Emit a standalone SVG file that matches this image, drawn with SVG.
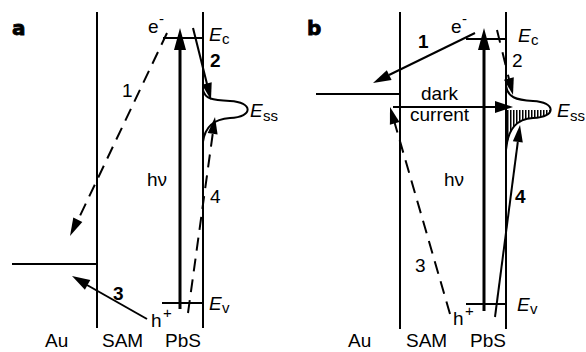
<svg xmlns="http://www.w3.org/2000/svg" width="586" height="352" viewBox="0 0 586 352">
<style>
text{font-family:"Liberation Sans",Arial,sans-serif;font-size:19px;fill:#000}
.b{font-weight:bold}
.p{font-family:"DejaVu Sans","Liberation Sans",sans-serif;font-weight:bold;font-size:20px;stroke:#000;stroke-width:0.8}
.it{font-style:italic}
.sub{font-size:15px}
.ln{stroke:#000;stroke-width:2;fill:none}
.th{stroke:#000;stroke-width:3;fill:none}
.da{stroke:#000;stroke-width:2;fill:none;stroke-dasharray:13 8}
.ah{fill:#000;stroke:none}
</style>
<defs>
<pattern id="hatch" width="3" height="40" patternUnits="userSpaceOnUse">
<rect x="0" y="0" width="1.5" height="40" fill="#000"/>
</pattern>
<clipPath id="bumpb">
<path d="M506,86 C508,97 515,100 533,101 C556,102 557,117 533,118 C517,119 508,128 506,150 Z"/>
</clipPath>
</defs>

<g id="panel-a">
<text class="p" x="12" y="35">a</text>
<g id="a-frame">
<line class="ln" x1="97" y1="12" x2="97" y2="328"/>
<line class="ln" x1="203" y1="12" x2="203" y2="328"/>
<line class="ln" x1="12" y1="264" x2="97" y2="264"/>
<line class="ln" x1="163" y1="38" x2="203" y2="38"/>
<line class="ln" x1="162" y1="303" x2="202" y2="303"/>
<path class="ln" d="M203,90 C205,99 212,100 230,101 C253,102 254,117 230,118 C214,119 205,126 203,142"/>
</g>
<g id="a-labels">
<text x="148" y="33">e</text><text x="159" y="24" class="sub">-</text>
<text x="209" y="41" class="it">E</text><text x="222" y="44" class="sub">c</text>
<text x="250" y="117" class="it">E</text><text x="263" y="121" class="sub">ss</text>
<text x="209" y="310" class="it">E</text><text x="222" y="313" class="sub">v</text>
<text x="147" y="186">hν</text>
<text x="151" y="327">h</text><text x="163" y="318" class="sub">+</text>
<text x="45" y="347">Au</text>
<text x="102" y="347">SAM</text>
<text x="165" y="347">PbS</text>
</g>
<g id="a-connectors">
<line class="th" x1="180" y1="309" x2="180" y2="46"/>
<polygon class="ah" points="180,28 174,50 186,50"/>
<line class="da" x1="167" y1="33" x2="78" y2="220"/>
<polygon class="ah" points="70,236 82.3,222 73.3,217.6"/>
<text x="122" y="97">1</text>
<line class="ln" x1="193" y1="28" x2="207" y2="84"/>
<polygon class="ah" points="211,100 211.7,82.3 202,84.7"/>
<text class="b" x="210" y="67">2</text>
<line class="da" x1="188" y1="313" x2="212.7" y2="134"/>
<polygon class="ah" points="215,117 217.6,134.5 207.7,133.1"/>
<text x="210" y="203">4</text>
<line class="ln" x1="147" y1="319" x2="87" y2="285"/>
<polygon class="ah" points="72,276 90.3,280.1 84.9,289.7"/>
<text class="b" x="113" y="300">3</text>
</g>
</g>

<g id="panel-b">
<text class="p" x="307" y="35">b</text>
<g id="b-frame">
<line class="ln" x1="400" y1="12" x2="400" y2="329"/>
<line class="ln" x1="506" y1="12" x2="506" y2="329"/>
<line class="ln" x1="316" y1="94" x2="400" y2="94"/>
<line class="ln" x1="466" y1="39" x2="506" y2="39"/>
<line class="ln" x1="466" y1="304" x2="506" y2="304"/>
<rect x="506" y="110" width="52" height="45" fill="url(#hatch)" clip-path="url(#bumpb)"/>
<path class="ln" d="M506,86 C508,97 515,100 533,101 C556,102 557,117 533,118 C517,119 508,128 506,150"/>
</g>
<g id="b-labels">
<text x="451" y="33">e</text><text x="462" y="24" class="sub">-</text>
<text x="518" y="42" class="it">E</text><text x="531" y="45" class="sub">c</text>
<text x="557" y="117" class="it">E</text><text x="570" y="121" class="sub">ss</text>
<text x="517" y="311" class="it">E</text><text x="530" y="314" class="sub">v</text>
<text x="444" y="186">hν</text>
<text x="453" y="325">h</text><text x="465" y="316" class="sub">+</text>
<text x="421" y="100">dark</text>
<text x="410" y="121">current</text>
<text x="348" y="347">Au</text>
<text x="406" y="347">SAM</text>
<text x="470" y="347">PbS</text>
</g>
<g id="b-connectors">
<line class="th" x1="484" y1="311" x2="484" y2="46"/>
<polygon class="ah" points="484,28 478,50 490,50"/>
<line class="ln" x1="475" y1="33" x2="389" y2="75"/>
<polygon class="ah" points="373,83 391.6,80 386.8,70.2"/>
<text class="b" x="418" y="48">1</text>
<line class="da" x1="497" y1="30" x2="509" y2="79" style="stroke-dasharray:13 10"/>
<polygon class="ah" points="513,95 513.8,77.3 504,79.7"/>
<text x="512" y="67">2</text>
<line class="ln" x1="393" y1="107" x2="497" y2="107"/>
<polygon class="ah" points="513,107 495,101 495,113"/>
<line class="da" x1="450" y1="314" x2="394.7" y2="123"/>
<polygon class="ah" points="390,107 399.5,121.9 389.9,124.7"/>
<text x="415" y="272">3</text>
<line class="ln" x1="495" y1="317" x2="517.8" y2="142"/>
<polygon class="ah" points="520,125 522.8,142.5 512.8,141.2"/>
<text class="b" x="515" y="203">4</text>
</g>
</g>
</svg>
